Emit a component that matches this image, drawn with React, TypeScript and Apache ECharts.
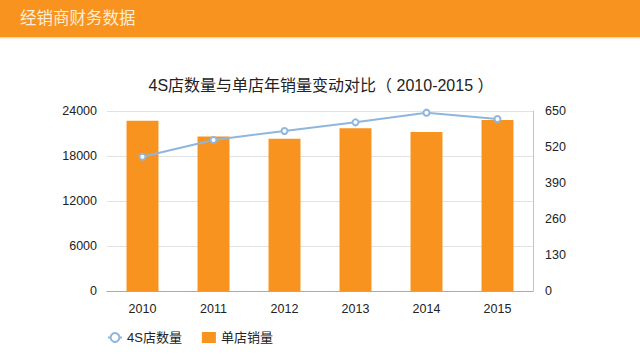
import React, { useEffect, useRef } from "react";
import * as echarts from "echarts";

const years = ["2010", "2011", "2012", "2013", "2014", "2015"];
const storeSales = [22700, 20600, 20300, 21700, 21200, 22800];
const storeCount = [485, 545, 578, 609, 644, 621];
const leftTicks = { min: 0, max: 24000, interval: 6000 };
const rightTicks = { min: 0, max: 650, interval: 130 };

const FONT = "'Liberation Sans', Arial, 'Noto Sans CJK SC', sans-serif";

export default function App() {
  const ref = useRef<HTMLDivElement>(null);
  useEffect(() => {
    if (!ref.current) return;
    const chart = echarts.init(ref.current, null, { renderer: "svg" });
    chart.setOption({
      animation: false,
      backgroundColor: "#ffffff",
      textStyle: { fontFamily: FONT },
      graphic: [
        { type: "rect", shape: { x: 0, y: 0, width: 640, height: 37 }, style: { fill: "#f7931e" } },
        { type: "rect", shape: { x: 0, y: 37, width: 640, height: 1.5 }, style: { fill: "#fcd7a6" } },
        {
          type: "text",
          left: 20,
          top: 10,
          style: { text: "经销商财务数据", fill: "#fbeed8", font: `16.5px ${FONT}` },
        },
      ],
      title: {
        text: "4S店数量与单店年销量变动对比（ 2010-2015 ）",
        left: 316,
        textAlign: "center",
        top: 72,
        textStyle: { fontSize: 16, fontWeight: "normal", color: "#222", fontFamily: FONT },
      },
      legend: {
        left: 102,
        top: 326,
        itemWidth: 14,
        itemHeight: 11,
        itemGap: 20,
        textStyle: { fontSize: 13, color: "#222", fontFamily: FONT },
        data: [{ name: "4S店数量" }, { name: "单店销量", icon: "rect" }],
      },
      grid: { left: 107, right: 107, top: 111, bottom: 69, containLabel: false },
      xAxis: {
        type: "category",
        data: years,
        axisLine: { lineStyle: { color: "#aaaaaa" } },
        axisTick: { show: false },
        axisLabel: { fontSize: 12.5, color: "#222", margin: 12, fontFamily: FONT },
      },
      yAxis: [
        {
          type: "value",
          min: leftTicks.min,
          max: leftTicks.max,
          interval: leftTicks.interval,
          axisLine: { show: false },
          axisTick: { show: false },
          splitLine: { lineStyle: { color: "#e2e2e2" } },
          axisLabel: {
            fontSize: 12.5,
            color: "#222",
            margin: 10,
            fontFamily: FONT,
            formatter: (v: number) => String(v),
          },
        },
        {
          type: "value",
          min: rightTicks.min,
          max: rightTicks.max,
          interval: rightTicks.interval,
          position: "right",
          axisLine: { show: true, lineStyle: { color: "#c4c4c4" } },
          axisTick: { show: false },
          splitLine: { show: false },
          axisLabel: {
            fontSize: 12.5,
            color: "#222",
            margin: 12,
            fontFamily: FONT,
            formatter: (v: number) => String(v),
          },
        },
      ],
      series: [
        {
          name: "4S店数量",
          type: "line",
          yAxisIndex: 1,
          data: storeCount,
          symbol: "emptyCircle",
          symbolSize: 6,
          z: 3,
          lineStyle: { color: "#8fb6dc", width: 2 },
          itemStyle: { color: "#8fb6dc", borderWidth: 1.5 },
        },
        {
          name: "单店销量",
          type: "bar",
          yAxisIndex: 0,
          data: storeSales,
          barWidth: "45%",
          z: 2,
          itemStyle: { color: "#f7931e" },
        },
      ],
    });
    return () => chart.dispose();
  }, []);
  return (
    <div
      ref={ref}
      style={{ position: "absolute", left: 0, top: 0, width: 640, height: 360, background: "#fff" }}
    />
  );
}
